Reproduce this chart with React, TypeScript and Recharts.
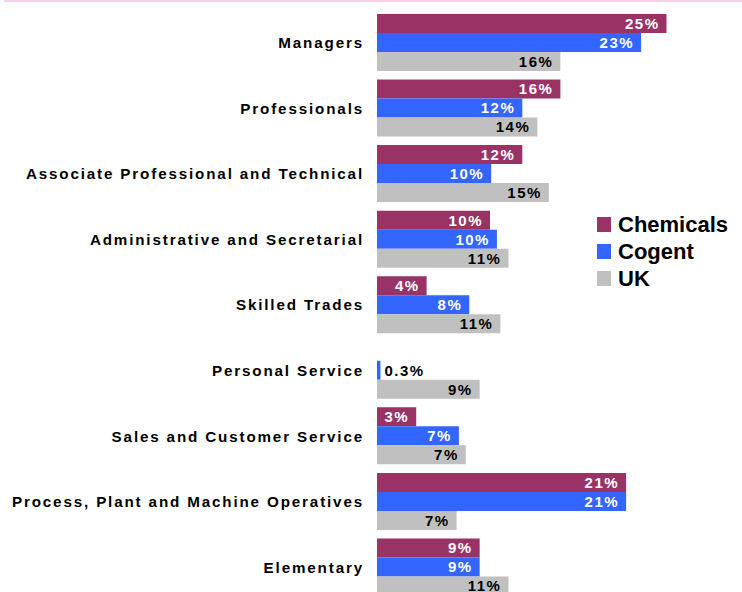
import React from "react";
import { BarChart, Bar, XAxis, YAxis, LabelList } from "recharts";

const categories = [
  "Managers",
  "Professionals",
  "Associate Professional and Technical",
  "Administrative and Secretarial",
  "Skilled Trades",
  "Personal Service",
  "Sales and Customer Service",
  "Process, Plant and Machine Operatives",
  "Elementary",
];

const chemicals = [25.1, 15.9, 12.6, 9.8, 4.3, 0, 3.4, 21.6, 8.9];
const cogent = [22.9, 12.6, 9.9, 10.4, 8.0, 0.3, 7.1, 21.6, 8.9];
const uk = [15.9, 13.9, 14.9, 11.4, 10.7, 8.9, 7.7, 6.9, 11.4];

const chemicalsLabels = ["25%", "16%", "12%", "10%", "4%", "", "3%", "21%", "9%"];
const cogentLabels = ["23%", "12%", "10%", "10%", "8%", "0.3%", "7%", "21%", "9%"];
const ukLabels = ["16%", "14%", "15%", "11%", "11%", "9%", "7%", "7%", "11%"];

const seriesNames = ["Chemicals", "Cogent", "UK"];
const seriesColors = ["#993366", "#3366FF", "#C0C0C0"];

const FONT = '"Liberation Sans", Arial, Helvetica, sans-serif';

const data = categories.map((name, i) => ({
  name,
  chemicals: chemicals[i],
  cogent: cogent[i],
  uk: uk[i],
  chemicalsLabel: chemicalsLabels[i],
  cogentLabel: cogentLabels[i],
  ukLabel: ukLabels[i],
}));

const makeLabel = (insideColor: string) => (props: any) => {
  const { x, y, width, height, value } = props;
  if (value === "" || value == null) return null;
  const w = Number(width) || 0;
  const outside = w < 20;
  return (
    <text
      x={outside ? x + w + 4 : x + w - 7}
      y={y + height / 2}
      dy="0.36em"
      textAnchor={outside ? "start" : "end"}
      fill={outside ? "#000000" : insideColor}
      fontFamily={FONT}
      fontWeight="bold"
      fontSize={15}
      letterSpacing={1.5}
    >
      {value}
    </text>
  );
};

const CategoryTick = (props: any) => {
  const { x, y, payload } = props;
  return (
    <text
      x={x - 5}
      y={y}
      dy="0.36em"
      textAnchor="end"
      fill="#000000"
      fontFamily={FONT}
      fontWeight="bold"
      fontSize={15.2}
      letterSpacing={1.85}
    >
      {payload.value}
    </text>
  );
};

export default function App() {
  return (
    <div
      style={{
        position: "absolute",
        left: 0,
        top: 0,
        width: 742,
        height: 592,
        overflow: "hidden",
        background: "#ffffff",
      }}
    >
      <div
        style={{
          position: "absolute",
          left: 4,
          top: 0,
          width: 738,
          height: 2,
          background: "#F4D3EA",
        }}
      />
      <BarChart
        width={742}
        height={610}
        data={data}
        layout="vertical"
        margin={{ top: 10, right: 19, bottom: 10, left: 0 }}
        barCategoryGap={4}
        barGap={0}
      >
        <XAxis type="number" domain={[0, 30]} hide />
        <YAxis
          type="category"
          dataKey="name"
          width={377}
          axisLine={false}
          tickLine={false}
          tick={<CategoryTick />}
          interval={0}
        />
        <Bar dataKey="chemicals" fill={seriesColors[0]} isAnimationActive={false}>
          <LabelList dataKey="chemicalsLabel" content={makeLabel("#FFFFFF")} />
        </Bar>
        <Bar dataKey="cogent" fill={seriesColors[1]} isAnimationActive={false}>
          <LabelList dataKey="cogentLabel" content={makeLabel("#FFFFFF")} />
        </Bar>
        <Bar dataKey="uk" fill={seriesColors[2]} isAnimationActive={false}>
          <LabelList dataKey="ukLabel" content={makeLabel("#000000")} />
        </Bar>
      </BarChart>
      <div
        style={{
          position: "absolute",
          left: 597,
          top: 211,
          fontFamily: FONT,
          fontWeight: "bold",
          fontSize: 22,
          color: "#000000",
        }}
      >
        {seriesNames.map((n, i) => (
          <div
            key={n}
            style={{ display: "flex", alignItems: "center", height: 27 }}
          >
            <span
              style={{
                display: "inline-block",
                width: 14,
                height: 15,
                background: seriesColors[i],
                marginRight: 7,
              }}
            />
            <span style={{ lineHeight: "27px" }}>{n}</span>
          </div>
        ))}
      </div>
    </div>
  );
}
